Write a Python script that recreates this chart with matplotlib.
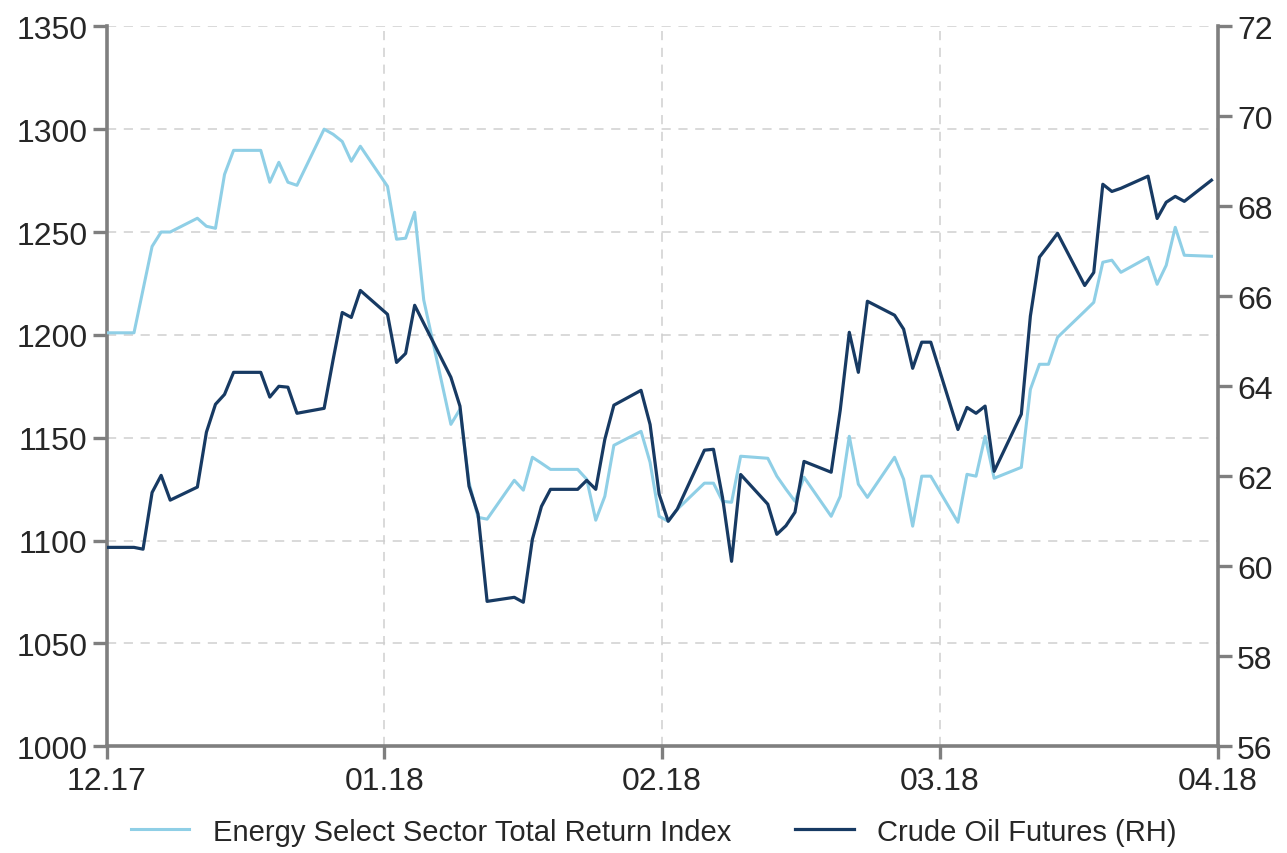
import matplotlib
matplotlib.use("Agg")
import matplotlib.pyplot as plt
import matplotlib.dates as mdates
from matplotlib import font_manager
import numpy as np
import pandas as pd

# trading days shown on the chart (weekdays, 1 Dec 2017 - 2 Apr 2018)
dates = pd.bdate_range("2017-12-01", "2018-04-02")

energy_dec = [1201, 1201, 1222, 1243, 1250, 1250, 1256.7, 1252.8, 1251.8, 1278, 1289.7,
              1289.7, 1274.2, 1283.9, 1274.2, 1272.7, 1300, 1297.5, 1294, 1284.4, 1291.7]
energy_jan = [1272.2, 1246.5, 1247, 1259.6, 1217, 1156.5, 1163.8, 1128.3, 1111.3, 1110.4,
              1129.3, 1124.5, 1140.5, 1137.6, 1134.6, 1134.6, 1129.8, 1109.9, 1121.5, 1146.3,
              1153.1, 1138, 1111.8]
energy_feb = [1109.4, 1115.2, 1127.9, 1127.9, 1119.1, 1118.6, 1141, 1140, 1131.3, 1125,
              1119.1, 1130.8, 1111.8, 1121.5, 1150.7, 1127.4, 1121, 1140.5, 1129.8, 1107]
energy_mar = [1131.3, 1131.3, 1108.9, 1132.2, 1131.3, 1150.7, 1130.3, 1135.6, 1173.5, 1185.7,
              1185.7, 1198.8, 1211.5, 1215.8, 1235.3, 1236.3, 1230.4, 1237.7, 1224.6, 1233.8,
              1252.3, 1238.7]
energy_apr = [1238.2]

crude_dec = [60.42, 60.42, 60.38, 61.64, 62.02, 61.47, 61.76, 62.98, 63.6, 63.82, 64.31,
             64.31, 63.76, 64.0, 63.98, 63.4, 63.51, 64.6, 65.64, 65.53, 66.13]
crude_jan = [65.6, 64.53, 64.73, 65.8, 65.4, 64.2, 63.56, 61.78, 61.16, 59.22, 59.31, 59.2,
             60.6, 61.33, 61.71, 61.71, 61.91, 61.71, 62.82, 63.58, 63.91, 63.15, 61.6]
crude_feb = [61.0, 61.27, 62.58, 62.6, 61.53, 60.11, 62.04, 61.38, 60.71, 60.9, 61.2, 62.33,
             62.09, 63.47, 65.2, 64.31, 65.89, 65.58, 65.27, 64.4]
crude_mar = [64.98, 64.98, 63.04, 63.53, 63.4, 63.56, 62.11, 63.38, 65.56, 66.87, 67.13, 67.4,
             66.24, 66.53, 68.49, 68.33, 68.4, 68.67, 67.73, 68.09, 68.22, 68.11]
crude_apr = [68.58]

energy = energy_dec + energy_jan + energy_feb + energy_mar + energy_apr
crude = crude_dec + crude_jan + crude_feb + crude_mar + crude_apr

tick_labels = ["12.17", "01.18", "02.18", "03.18", "04.18"]
energy_label = "Energy Select Sector Total Return Index"
crude_label = "Crude Oil Futures (RH)"

LIGHT = "#8fcfe6"
DARK = "#173a63"
SPINE = "#7f7f7f"
GRID = "#cfcfcf"
TEXT = "#262626"

installed = {f.name for f in font_manager.fontManager.ttflist}
family = "Liberation Sans Narrow" if "Liberation Sans Narrow" in installed else "Liberation Sans"
plt.rcParams["font.family"] = [family, "DejaVu Sans"]

fig = plt.figure(figsize=(12.87, 8.54), dpi=100)
ax = fig.add_axes([0.083, 0.125, 0.863, 0.843])
ax2 = ax.twinx()

ax.plot(dates, energy, color=LIGHT, lw=2.2, label=energy_label, zorder=3)
ax2.plot(dates, crude, color=DARK, lw=2.3, label=crude_label, zorder=3)

start = mdates.date2num(pd.Timestamp("2017-12-01"))
end = mdates.date2num(pd.Timestamp("2018-04-02 16:00"))
ax.set_xlim(start, end)
ax.set_xticks(np.linspace(start, end, 5))
ax.set_xticklabels(tick_labels)

ax.set_ylim(1000, 1350)
ax.set_yticks(np.arange(1000, 1351, 50))
ax2.set_ylim(56, 72)
ax2.set_yticks(np.arange(56, 73, 2))

ax.grid(True, color=GRID, ls=(0, (6, 5)), lw=1.1)
ax.set_axisbelow(True)

for a in (ax, ax2):
    a.spines["top"].set_visible(False)
    for s in ("left", "right", "bottom"):
        a.spines[s].set_color(SPINE)
        a.spines[s].set_linewidth(2.6)
ax.spines["right"].set_visible(False)
ax2.spines["left"].set_visible(False)
ax2.spines["bottom"].set_visible(False)

ax.tick_params(axis="y", direction="out", length=10, width=2.4, color=SPINE,
               labelsize=23, labelcolor=TEXT, pad=4)
ax.tick_params(axis="x", direction="out", length=9, width=2.4, color=SPINE,
               labelsize=23, labelcolor=TEXT, pad=5)
ax2.tick_params(axis="y", direction="out", length=10, width=2.4, color=SPINE,
                labelsize=23, labelcolor=TEXT, pad=4)

h1, l1 = ax.get_legend_handles_labels()
h2, l2 = ax2.get_legend_handles_labels()
fig.legend(h1 + h2, l1 + l2, loc="lower center", bbox_to_anchor=(0.508, -0.022), ncol=2,
           frameon=False, fontsize=21, handlelength=2.0, columnspacing=2.2,
           labelcolor=TEXT)

fig.savefig("out.png", dpi=100)
